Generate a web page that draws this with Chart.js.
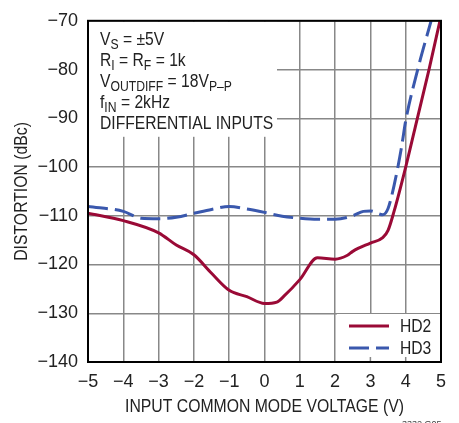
<!DOCTYPE html>
<html><head><meta charset="utf-8">
<script src="https://cdn.jsdelivr.net/npm/chart.js@4/dist/chart.umd.min.js"></script>
<style>html,body{margin:0;padding:0;background:#fff}#wrap{width:459px;height:423px}</style>
</head><body><div id="wrap"><canvas id="c" width="459" height="423"></canvas></div>
<script>
const FONT = "'Liberation Sans Narrow','Arial Narrow','Liberation Sans',sans-serif";
const xTicks = [-5,-4,-3,-2,-1,0,1,2,3,4,5];
const yTicks = [-140,-130,-120,-110,-100,-90,-80,-70];
const seriesNames = ['HD2','HD3'];
const xTitle = 'INPUT COMMON MODE VOLTAGE (V)';
const yTitle = 'DISTORTION (dBc)';
const hd2X = [-5,-4,-3,-2.5,-2,-1.5,-1,-0.5,0,0.35,0.55,1,1.5,2,2.35,2.5,3,3.35,3.5,3.67,4,4.33,4.66,4.97];
const hd2Y = [-109.5,-111,-113.5,-116,-118,-121.8,-125.3,-126.6,-128,-127.7,-126.5,-123.1,-118.6,-118.9,-118.1,-117.3,-115.6,-114.5,-113,-109.1,-100,-90,-80,-70];
const hd3X = [-5,-4,-3.5,-3,-2.5,-2,-1.5,-1,-0.5,0,0.5,1,1.5,2,2.5,2.8,3,3.35,3.5,3.67,3.88,4.0,4.34,4.72];
const hd3Y = [-108.1,-109.1,-110.5,-110.6,-110.3,-109.5,-108.7,-108.1,-108.6,-109.3,-110.1,-110.5,-110.7,-110.7,-110,-109.1,-109,-109.8,-108.5,-103.8,-96,-90.5,-80,-70];
const notes = [
  [['V',''],['S','sub'],[' = ±5V','']],
  [['R',''],['I','sub'],[' = R',''],['F','sub'],[' = 1k','']],
  [['V',''],['OUTDIFF','sub'],[' = 18V',''],['P–P','sub']],
  [['f',''],['IN','sub'],[' = 2kHz','']],
  [['DIFFERENTIAL INPUTS','']]
];
const RED = '#9a0a36', BLUE = '#3a58ad', INK = '#222';
const minus = v => String(v).replace('-', '\u2212');

function narrowText(ctx, t, x, y, align, rot, sx) {
  ctx.save();
  ctx.translate(x, y);
  if (rot) ctx.rotate(rot);
  ctx.scale(sx, 1);
  ctx.textAlign = align;
  ctx.fillText(t, 0, 0);
  const w = ctx.measureText(t).width * sx;
  ctx.restore();
  return w;
}

const overlay = {
  id: 'overlay',
  beforeDatasetsDraw(chart) {
    const {ctx, chartArea: a, scales} = chart;
    ctx.save();
    ctx.fillStyle = '#fff';
    ctx.fillRect(a.left + 1, a.top + 1, 188, 115);
    ctx.fillRect(a.right - 104, a.bottom - 48, 103, 47);
    ctx.strokeStyle = '#888'; ctx.lineWidth = 1.5;
    [3,4].forEach(v => { const x = scales.x.getPixelForValue(v);
      ctx.beginPath(); ctx.moveTo(x, a.bottom); ctx.lineTo(x, a.bottom - 5); ctx.stroke(); });
    ctx.restore();
  },
  afterDatasetsDraw(chart) {
    const {ctx, chartArea: a} = chart;
    ctx.save();
    ctx.strokeStyle = '#000'; ctx.lineWidth = 2;
    ctx.strokeRect(a.left, a.top, a.right - a.left, a.bottom - a.top);
    ctx.fillStyle = INK; ctx.textBaseline = 'alphabetic';
    notes.forEach((line, i) => {
      let x = a.left + 12; const y = a.top + 24 + i * 21;
      line.forEach(([t, k]) => {
        ctx.font = (k ? '14px ' : '18px ') + FONT;
        x += narrowText(ctx, t, x, k ? y + 4 : y, 'left', 0, 0.87);
      });
    });
    // legend
    chart.data.datasets.forEach((d, i) => {
      const y = a.bottom - 36 + i * 22;
      ctx.beginPath(); ctx.strokeStyle = d.borderColor; ctx.lineWidth = 3;
      ctx.setLineDash(d.borderDash || []);
      ctx.moveTo(a.right - 92, y); ctx.lineTo(a.right - 52, y); ctx.stroke();
      ctx.setLineDash([]);
      ctx.fillStyle = INK; ctx.font = '18px ' + FONT; ctx.textBaseline = 'middle';
      narrowText(ctx, d.label, a.right - 41, y + 1, 'left', 0, 0.87);
    });
    // axis titles
    ctx.textBaseline = 'middle'; ctx.font = '19px ' + FONT; ctx.fillStyle = INK;
    narrowText(ctx, xTitle, (a.left + a.right) / 2, 407, 'center', 0, 0.83);
    narrowText(ctx, yTitle, 22, (a.top + a.bottom) / 2, 'center', -Math.PI / 2, 0.83);
    ctx.textBaseline = 'alphabetic'; ctx.font = '9px ' + FONT; ctx.fillStyle = '#444';
    ctx.fillText('3332 G05', 402, 427);
    ctx.restore();
  }
};

new Chart(document.getElementById('c'), {
  type: 'line',
  data: { datasets: [
    { label: seriesNames[0], data: hd2X.map((x, i) => ({x, y: hd2Y[i]})), borderColor: RED, borderWidth: 3, pointRadius: 0, cubicInterpolationMode: 'monotone', fill: false },
    { label: seriesNames[1], data: hd3X.map((x, i) => ({x, y: hd3Y[i]})), borderColor: BLUE, borderWidth: 3, borderDash: [20, 7], pointRadius: 0, cubicInterpolationMode: 'monotone', fill: false }
  ]},
  options: {
    responsive: false, animation: false, devicePixelRatio: 1,
    layout: { padding: { left: 0, top: 12, right: 18, bottom: 0 } },
    plugins: { legend: { display: false }, tooltip: { enabled: false } },
    scales: {
      x: { type: 'linear', min: -5, max: 5,
        afterBuildTicks: s => { s.ticks = xTicks.map(v => ({value: v})); },
        afterFit: s => { s.height = 61; },
        grid: { color: '#888', lineWidth: 1.5, drawTicks: false },
        border: { display: false },
        ticks: { padding: 9, color: INK, font: { family: FONT, size: 18 }, callback: v => minus(v), maxRotation: 0 },
        title: { display: false, text: xTitle }
      },
      y: { type: 'linear', min: -140, max: -70,
        afterBuildTicks: s => { s.ticks = yTicks.map(v => ({value: v})); },
        afterFit: s => { s.width = 88; },
        grid: { color: '#888', lineWidth: 1.5, drawTicks: false },
        border: { display: false },
        ticks: { padding: 10, color: INK, font: { family: FONT, size: 18 }, callback: v => minus(v) },
        title: { display: false, text: yTitle }
      }
    }
  },
  plugins: [overlay]
});
</script></body></html>
